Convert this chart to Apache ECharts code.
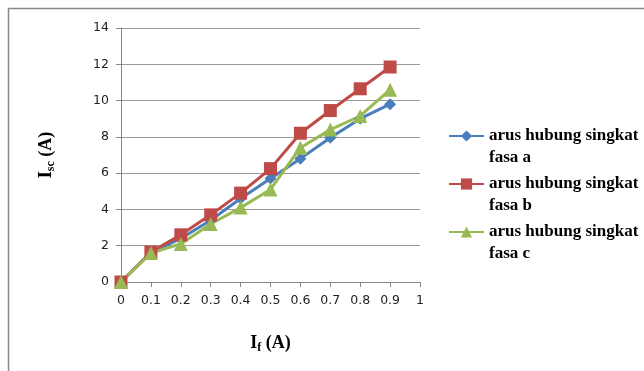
<!DOCTYPE html>
<html><head><meta charset="utf-8">
<script src="https://cdn.jsdelivr.net/npm/echarts@6/dist/echarts.min.js"></script>
<style>html,body{margin:0;padding:0;background:#fff}#c{width:644px;height:371px}</style>
</head><body><div id="c"></div>
<script>
const xValues = [0, 0.1, 0.2, 0.3, 0.4, 0.5, 0.6, 0.7, 0.8, 0.9];
const fasaA = [0, 1.6, 2.4, 3.4, 4.6, 5.7, 6.8, 7.95, 9.0, 9.8];
const fasaB = [0, 1.65, 2.6, 3.7, 4.9, 6.25, 8.2, 9.45, 10.65, 11.85];
const fasaC = [0, 1.6, 2.1, 3.2, 4.1, 5.1, 7.4, 8.4, 9.15, 10.6];
const seriesNames = ['arus hubung singkat\nfasa a', 'arus hubung singkat\nfasa b', 'arus hubung singkat\nfasa c'];
const colors = ['#4A7EBB', '#BE4B48', '#98B954'];
const symbols = ['diamond', 'rect', 'triangle'];
const symbolSizes = [12, 13, 14];
const allData = [fasaA, fasaB, fasaC];

const chart = echarts.init(document.getElementById('c'));
const tickFont = {fontFamily: 'DejaVu Sans', fontSize: 12.5, color: '#222'};
const nameRich = {
  b: {fontFamily: 'Liberation Serif', fontWeight: 'bold', fontSize: 18, color: '#000'},
  s: {fontFamily: 'Liberation Serif', fontWeight: 'bold', fontSize: 12, color: '#000', padding: [9, 0, 0, 0]}
};
chart.setOption({
  animation: false,
  graphic: [
    {type: 'line', shape: {x1: 8.5, y1: 8, x2: 8.5, y2: 371}, style: {stroke: '#888', lineWidth: 1.5}},
    {type: 'line', shape: {x1: 8, y1: 8.5, x2: 644, y2: 8.5}, style: {stroke: '#888', lineWidth: 1.5}}
  ],
  grid: {left: 121, right: 224, top: 28, bottom: 89},
  legend: {
    orient: 'vertical', left: 443, top: 98, itemGap: -18, itemWidth: 35, itemHeight: 14,
    data: seriesNames,
    formatter: name => '\n' + name,
    textStyle: {fontFamily: 'Liberation Serif', fontWeight: 'bold', fontSize: 17, color: '#000', lineHeight: 22}
  },
  xAxis: {
    type: 'value', min: 0, max: 1, interval: 0.1,
    name: '{b|I}{s|f}{b| (A)}', nameLocation: 'middle', nameGap: 51,
    nameTextStyle: {rich: nameRich},
    axisLine: {lineStyle: {color: '#868686'}},
    axisTick: {show: true, length: 5, lineStyle: {color: '#868686'}},
    axisLabel: Object.assign({margin: 12, formatter: v => String(Math.round(v * 10) / 10)}, tickFont),
    splitLine: {show: false}
  },
  yAxis: {
    type: 'value', min: 0, max: 14, interval: 2,
    name: '{b|I}{s|sc}{b| (A)}', nameLocation: 'middle', nameGap: 64, nameRotate: 90,
    nameTextStyle: {rich: nameRich},
    axisLine: {show: true, lineStyle: {color: '#868686'}},
    axisTick: {show: true, length: 5, lineStyle: {color: '#868686'}},
    axisLabel: Object.assign({margin: 12}, tickFont),
    splitLine: {lineStyle: {color: '#9a9a9a'}}
  },
  series: seriesNames.map((n, i) => ({
    name: n, type: 'line',
    data: xValues.map((x, j) => [x, allData[i][j]]),
    symbol: symbols[i], symbolSize: symbolSizes[i], showAllSymbol: true,
    itemStyle: {color: colors[i]},
    lineStyle: {color: colors[i], width: 3}
  }))
});
</script></body></html>
